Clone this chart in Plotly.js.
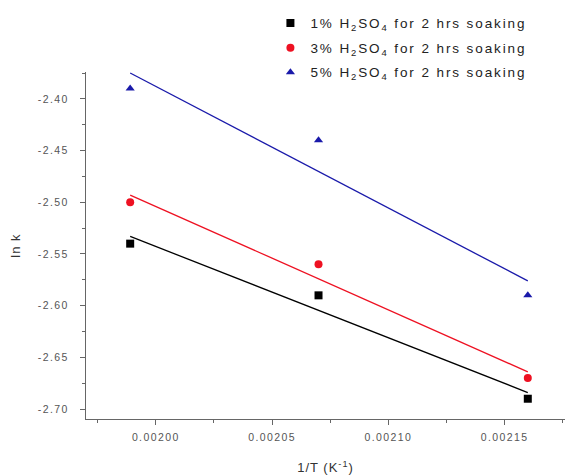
<!DOCTYPE html>
<html><head><meta charset="utf-8">
<script src="https://cdn.plot.ly/plotly-3.0.1.min.js"></script>
<style>
body{margin:0;padding:0;background:#fff}#chart{width:570px;height:475px}
.xtick text, .ytick text{letter-spacing:1.4px}
.legendtext{letter-spacing:1.9px}
.xtitle, .ytitle{letter-spacing:1px}
</style>
</head><body><div id="chart"></div>
<script>
const invT = [0.001989, 0.00207, 0.00216];
const s1 = [-2.54, -2.59, -2.69];
const s2 = [-2.50, -2.56, -2.67];
const s3 = [-2.39, -2.44, -2.59];
const fitX = [0.001989, 0.00216];
const fit1 = [-2.533, -2.684];
const fit2 = [-2.493, -2.664];
const fit3 = [-2.375, -2.576];
const names = ['1% H<sub>2</sub>SO<sub>4</sub> for 2 hrs soaking',
               '3% H<sub>2</sub>SO<sub>4</sub> for 2 hrs soaking',
               '5% H<sub>2</sub>SO<sub>4</sub> for 2 hrs soaking'];
const colors = ['#000000', '#ee1122', '#1a1aaa'];
const symbols = ['square', 'circle', 'triangle-up'];
const series = [s1, s2, s3];
const fits = [fit1, fit2, fit3];
const traces = [];
for (let i = 0; i < 3; i++) {
  traces.push({x: fitX, y: fits[i], mode: 'lines', showlegend: false,
    line: {color: colors[i], width: 1.3}, hoverinfo: 'skip'});
}
for (let i = 0; i < 3; i++) {
  traces.push({x: invT, y: series[i], mode: 'markers', name: names[i],
    legendgroup: 'g' + i,
    marker: {color: colors[i], symbol: symbols[i], size: 8}});
}
const layout = {
  width: 570, height: 475,
  margin: {l: 86, r: 5, t: 72, b: 56},
  paper_bgcolor: '#fff', plot_bgcolor: '#fff',
  font: {family: 'Liberation Sans, Arial, sans-serif', color: '#333'},
  showlegend: true,
  legend: {x: 0.385, y: 1.185, xanchor: 'left', yanchor: 'top',
    font: {size: 13.5, color: '#222'}, bgcolor: 'rgba(0,0,0,0)', tracegroupgap: 4},
  xaxis: {
    range: [0.00197, 0.002176], showgrid: false, zeroline: false,
    showline: true, linecolor: '#666', linewidth: 1.2,
    ticks: 'outside', ticklen: 5, tickcolor: '#666',
    tickvals: [0.0020, 0.00205, 0.0021, 0.00215],
    ticktext: ['0.00200', '0.00205', '0.00210', '0.00215'],
    tickfont: {size: 10.5, color: '#555'}, ticklabelstandoff: 3,
    minor: {ticks: 'outside', ticklen: 3, tickcolor: '#666', dtick: 0.000025, tick0: 0.002},
    title: {text: '1/T (K<sup>-1</sup>)', font: {size: 13, color: '#333'}, standoff: 21}
  },
  yaxis: {
    range: [-2.7096, -2.374], showgrid: false, zeroline: false,
    showline: true, linecolor: '#666', linewidth: 1.2,
    ticks: 'outside', ticklen: 5, tickcolor: '#666',
    tickvals: [-2.40, -2.45, -2.50, -2.55, -2.60, -2.65, -2.70],
    ticktext: ['-2.40', '-2.45', '-2.50', '-2.55', '-2.60', '-2.65', '-2.70'],
    tickfont: {size: 10.5, color: '#555'}, ticklabelstandoff: 9,
    minor: {ticks: 'outside', ticklen: 3, tickcolor: '#666', dtick: 0.025, tick0: -2.4},
    title: {text: 'ln k', font: {size: 13, color: '#333'}, standoff: 14}
  }
};
Plotly.newPlot('chart', traces, layout, {displayModeBar: false, staticPlot: true});
</script></body></html>
